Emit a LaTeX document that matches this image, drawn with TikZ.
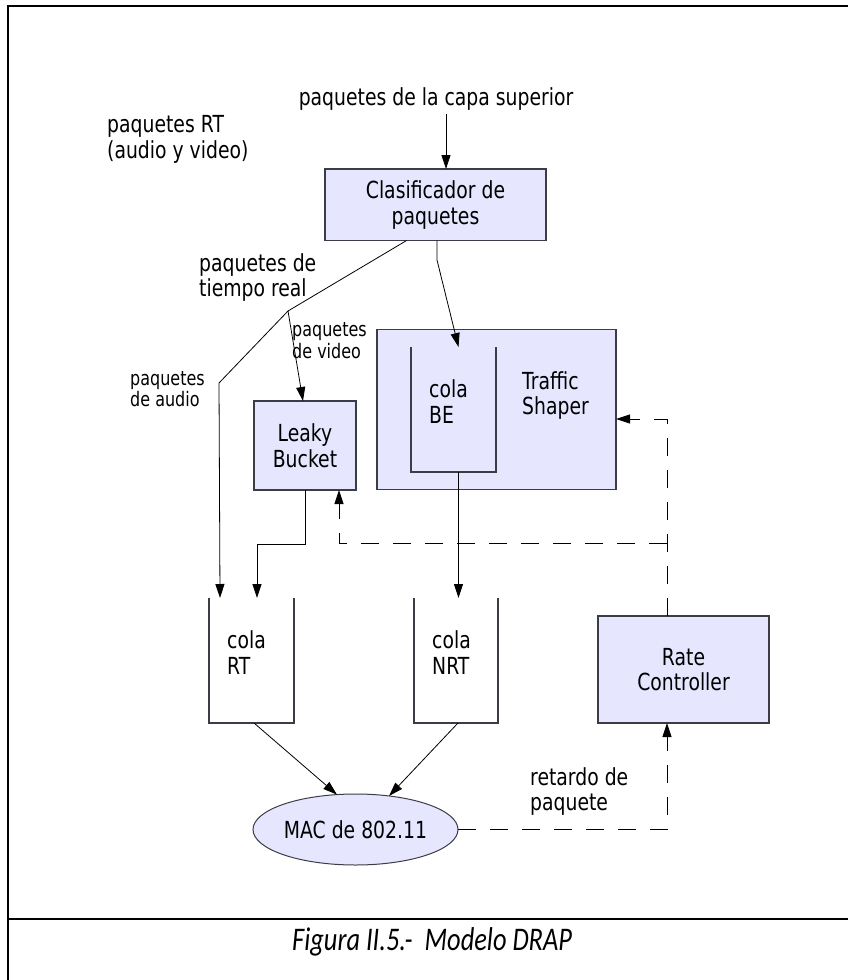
\documentclass[tikz,border=0pt]{standalone}
\usepackage{fontspec}
\setmainfont{DejaVu Sans}[FakeStretch=0.8]
\newfontfamily\capfont{Carlito}[FakeStretch=0.8]
\usetikzlibrary{arrows.meta,calc,shapes.geometric}
\definecolor{lav}{RGB}{230,230,255}
\definecolor{edgegray}{RGB}{60,60,70}

\begin{document}
\begin{tikzpicture}[x=1pt,y=-1pt,
  lbl/.style={inner sep=0pt, align=left, anchor=west, font=\fontsize{23.5}{25.5}\selectfont},
  small/.style={inner sep=0pt, align=left, anchor=west, font=\fontsize{20}{21.5}\selectfont},
  blk/.style={draw=edgegray, line width=1.3pt, fill=lav, inner sep=0pt, outer sep=0pt,
              align=center, font=\fontsize{23.5}{25.5}\selectfont},
  queue/.style={inner sep=0pt, outer sep=0pt},
  qline/.style={draw=edgegray, line width=1.3pt},
  conn/.style={line width=0.8pt, black},
  arr/.style={conn, -{Triangle[length=14pt,width=9pt]}},
  dsh/.style={dash pattern=on 18pt off 14pt},
]
\useasboundingbox (0,0) rectangle (848,980);

% frame and caption strip
\draw[line width=2.7pt] (8,995) -- (8,6) -- (860,6);
\draw[line width=2.7pt] (8,919) -- (860,919);
\node[inner sep=0pt, anchor=base west, font=\capfont\itshape\fontsize{33}{36}\selectfont] (cap) at (292,950)
  {Figura II.5.-\ \ Modelo DRAP};

% blocks
\node[blk, minimum width=221pt, minimum height=71.5pt] (cls) at (435.5,204.8) {Clasificador de\\paquetes};
\node[blk, minimum width=239pt, minimum height=160pt] (ts) at (496.5,409.8) {};
\node[queue, minimum width=85pt, minimum height=125pt] (be) at (453.5,409.5) {};
\draw[qline] (be.north west) -- (be.south west) -- (be.south east) -- (be.north east);
\node[blk, minimum width=102pt, minimum height=89pt] (lb) at (305,445.5) {Leaky\\Bucket};
\node[queue, minimum width=85pt, minimum height=125pt] (crt) at (251.5,660.5) {};
\draw[qline] (crt.north west) -- (crt.south west) -- (crt.south east) -- (crt.north east);
\node[queue, minimum width=84pt, minimum height=125pt] (cnrt) at (456,660.5) {};
\draw[qline] (cnrt.north west) -- (cnrt.south west) -- (cnrt.south east) -- (cnrt.north east);
\node[blk, minimum width=171pt, minimum height=107pt] (rc) at (683.5,669.5) {Rate\\Controller};
\node[blk, ellipse, line width=1pt, minimum width=205pt, minimum height=71pt] (mac) at (355.5,829.5) {MAC de 802.11};

% texts
\node[lbl, anchor=center] (sup) at (436,98.8) {paquetes de la capa superior};
\node[lbl] (rtl) at (107,139.5) {paquetes RT\\(audio y video)};
\node[lbl] (trl) at (199,277.5) {paquetes de\\tiempo real};
\node[small] (vidl) at (292,340.7) {paquetes\\de video};
\node[small] (audl) at (130,389) {paquetes\\de audio};
\node[lbl] (tsl) at (522,395.5) {Traffic\\Shaper};
\node[lbl] (bel) at (429,401.8) {cola\\BE};
\node[lbl] (rtq) at (227,652.8) {cola\\RT};
\node[lbl] (nrtq) at (432,652.8) {cola\\NRT};
\node[lbl] (retl) at (530,791.5) {retardo de\\paquete};

% branch points
\coordinate (split) at (288,311);
\coordinate (bend) at (219,383);
\coordinate (beknee) at (437,260);
\coordinate (fb) at (667,543);

% solid connectors
\draw[arr] ($(sup.south)+(10,4)$) -- ($(cls.north)+(10.5,0)$);
\draw[conn] ($(cls.south)+(-29,0)$) -- (split);
\draw[arr] (split) -- (bend) -- ($(crt.north west)+(11,0)$);
\draw[arr] (split) -- ($(lb.north)+(-2,0)$);
\draw[arr] ($(cls.south)+(1.5,0)$) -- (beknee) -- ($(be.north)+(5,0)$);
\draw[arr] ($(be.south)+(5,0)$) -- ($(cnrt.north)+(2.5,0)$);
\draw[arr] (lb.south) -- ++(0,54) -| ($(crt.north)+(5.5,0)$);
\draw[arr] ($(crt.south)+(2.5,0)$) -- (mac.118);
\draw[arr] ($(cnrt.south)+(2,0)$) -- (mac.45);

% dashed feedback
\draw[arr, dsh] (mac.east) -| ($(rc.south)+(-16.5,0)$);
\draw[arr, dsh] ($(rc.north)+(-16.5,0)$) |- ($(ts.east)+(0,9.2)$);
\draw[arr, dsh] (fb) -| ($(lb.south)+(34,0)$);
\end{tikzpicture}
\end{document}
